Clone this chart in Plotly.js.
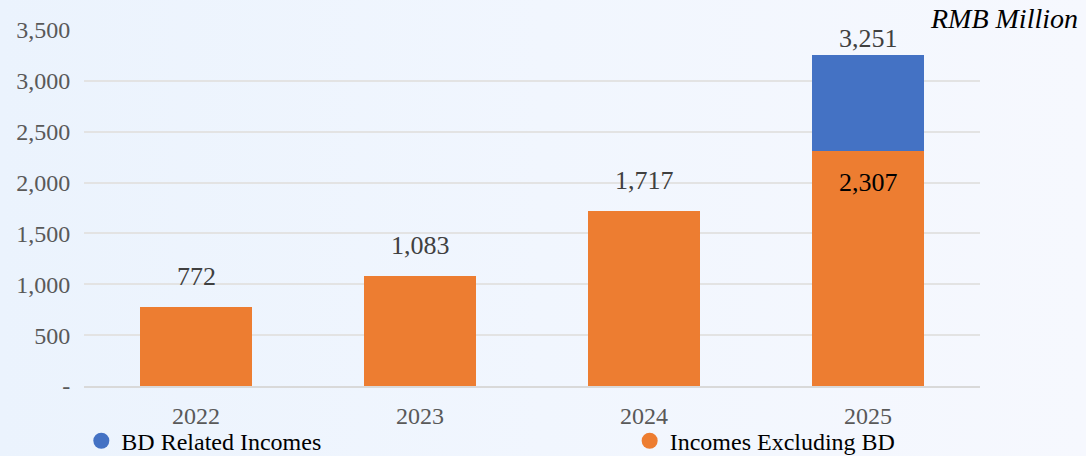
<!DOCTYPE html>
<html><head><meta charset="utf-8">
<script src="https://cdn.plot.ly/plotly-3.0.1.min.js"></script>
<style>
html,body{margin:0;padding:0;}
body{width:1086px;height:456px;background:linear-gradient(90deg,#EBF3FD 0%,#F1F6FE 50%,#F6F8FE 100%);}
#chart{width:1086px;height:456px;}
</style></head><body><div id="chart"></div>
<script>
const years = ['2022','2023','2024','2025'];
const excludingBD = [772, 1083, 1717, 2307];
const bdRelated = [null, null, null, 944];
const totals = [772, 1083, 1717, 3251];
const yTickVals = [0, 500, 1000, 1500, 2000, 2500, 3000, 3500];
const yTickText = ['-', '500', '1,000', '1,500', '2,000', '2,500', '3,000', '3,500'];
const seriesNames = ['BD Related Incomes', 'Incomes Excluding BD'];
const unitLabel = 'RMB Million';

const blue = '#4472C4', orange = '#ED7D31';
const serif = 'Liberation Serif, Times New Roman, serif';
const fmt = v => v.toLocaleString('en-US');

const traces = [
  {type:'bar', x:years, y:excludingBD, marker:{color:orange}, showlegend:false, hoverinfo:'skip'},
  {type:'bar', x:years, y:bdRelated, marker:{color:blue}, showlegend:false, hoverinfo:'skip'},
  {type:'scatter', mode:'markers', x:[null], y:[null], name:seriesNames[0], legend:'legend',
   marker:{color:blue, size:20, symbol:'circle'}},
  {type:'scatter', mode:'markers', x:[null], y:[null], name:seriesNames[1], legend:'legend2',
   marker:{color:orange, size:20, symbol:'circle'}}
];

const annotations = [];
totals.forEach((t, i) => {
  annotations.push({x:i, y:t, xref:'x', yref:'y', text:fmt(t), showarrow:false,
    yanchor:'bottom', yshift: (bdRelated[i] ? 0 : 14),
    font:{family:serif, size:26, color:'#404040'}});
});
excludingBD.forEach((v, i) => {
  if (bdRelated[i]) {
    annotations.push({x:i, y:v, xref:'x', yref:'y', text:fmt(v), showarrow:false,
      yanchor:'top', yshift:-15, font:{family:serif, size:26, color:'#000000'}});
  }
});
annotations.push({x:1, y:1, xref:'paper', yref:'paper', xanchor:'right', yanchor:'middle',
  xshift:100, yshift:12, text:'<i>' + unitLabel + '</i>', showarrow:false,
  font:{family:serif, size:28, color:'#000000'}});

const legendBase = {orientation:'h', yanchor:'middle', xanchor:'left', y:-0.155,
  itemclick:false, itemsizing:'trace', bgcolor:'rgba(0,0,0,0)', font:{family:serif, size:24, color:'#000000'}};

const layout = {
  width:1086, height:456,
  margin:{l:84, r:106, t:30, b:70, autoexpand:false},
  paper_bgcolor:'rgba(0,0,0,0)', plot_bgcolor:'rgba(0,0,0,0)',
  barmode:'stack', bargap:0.5,
  font:{family:serif, size:24, color:'#595959'},
  xaxis:{type:'category', range:[-0.5,3.5], showgrid:false, zeroline:false,
    showline:true, linecolor:'#D9D9D9', linewidth:2,
    ticks:'outside', ticklen:7, tickcolor:'rgba(0,0,0,0)', automargin:false,
    tickfont:{family:serif, size:24, color:'#595959'}},
  yaxis:{range:[0,3500], tickvals:yTickVals, ticktext:yTickText,
    showgrid:true, gridcolor:'#E3E3E3', gridwidth:2, zeroline:false,
    ticks:'outside', ticklen:8, tickcolor:'rgba(0,0,0,0)', automargin:false,
    tickfont:{family:serif, size:24, color:'#595959'}},
  showlegend:true,
  legend:Object.assign({}, legendBase, {x:-0.003}),
  legend2:Object.assign({}, legendBase, {x:0.609}),
  annotations:annotations
};

Plotly.newPlot('chart', traces, layout, {displayModeBar:false, staticPlot:true});
</script></body></html>
